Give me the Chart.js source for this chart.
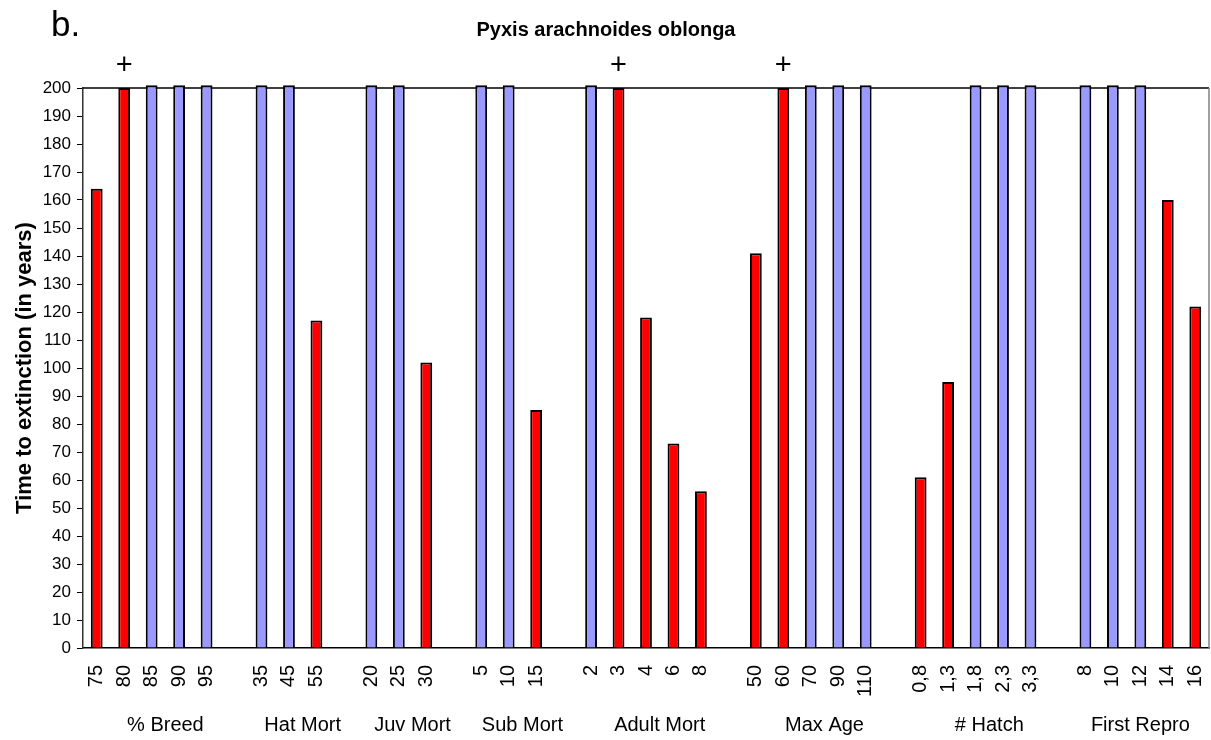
<!DOCTYPE html>
<html>
<head>
<meta charset="utf-8">
<script src="https://cdn.jsdelivr.net/npm/chart.js@4/dist/chart.umd.min.js"></script>
<style>
  html, body { margin: 0; padding: 0; background: #fff; }
  #wrap { width: 1211px; height: 740px; position: relative; }
</style>
</head>
<body>
<div id="wrap"><canvas id="extinctionChart"></canvas></div>
<script>
// parameter value tested in each run (blank = spacer between groups)
var labels = ['75', '80', '85', '90', '95', '',
    '35', '45', '55', '',
    '20', '25', '30', '',
    '5', '10', '15', '',
    '2', '3', '4', '6', '8', '',
    '50', '60', '70', '90', '110', '',
    '0,8', '1,3', '1,8', '2,3', '3,3', '',
    '8', '10', '12', '14', '16'];

// time to extinction in years (201 = survived the 200 year run)
var years = [164, 200, 201, 201, 201, null,
    201, 201, 117, null,
    201, 201, 102, null,
    201, 201, 85, null,
    201, 200, 118, 73, 56, null,
    141, 200, 201, 201, 201, null,
    61, 95, 201, 201, 201, null,
    201, 201, 201, 160, 122];

var groupNames = ['% Breed', 'Hat Mort', 'Juv Mort', 'Sub Mort', 'Adult Mort', 'Max Age', '# Hatch', 'First Repro'];
var groupSpans = [[0, 5], [6, 9], [10, 13], [14, 17], [18, 23], [24, 29], [30, 35], [36, 40]];

// runs marked with "+"
var plusAt = [1, 19, 25];

var barColors = years.map(function (v) {
    return v !== null && v <= 200 ? '#FF0000' : '#9999FF';
});

var FONT = "'Liberation Sans', Arial, sans-serif";

var decorations = {
    id: 'decorations',
    beforeDatasetsDraw: function (chart) {
        var c = chart.ctx, a = chart.chartArea;
        c.save();
        c.lineWidth = 1.5;
        c.strokeStyle = '#000';
        c.beginPath();
        c.moveTo(a.left, a.top);
        c.lineTo(a.right, a.top);
        c.stroke();
        c.strokeStyle = '#808080';
        c.beginPath();
        c.moveTo(a.right, a.top);
        c.lineTo(a.right, a.bottom);
        c.stroke();
        c.restore();
    },
    afterDraw: function (chart) {
        var c = chart.ctx, a = chart.chartArea, x = chart.scales.x;
        c.save();
        c.fillStyle = '#000';

        c.textAlign = 'left';
        c.textBaseline = 'alphabetic';
        c.font = '35px ' + FONT;
        c.fillText('b.', 51, 36);

        c.textAlign = 'center';
        c.font = 'bold 20px ' + FONT;
        c.fillText('Pyxis arachnoides oblonga', 606, 36);

        c.font = '29px ' + FONT;
        c.textBaseline = 'middle';
        plusAt.forEach(function (i) {
            c.fillText('+', x.getPixelForValue(i), a.top - 22);
        });

        c.font = '20px ' + FONT;
        groupNames.forEach(function (name, g) {
            var s = groupSpans[g];
            var mid = (x.getPixelForValue(s[0]) + x.getPixelForValue(s[1])) / 2;
            c.fillText(name, mid, 725);
        });
        c.restore();
    }
};

var ctx = document.getElementById('extinctionChart').getContext('2d');
var extinctionChart = new Chart(ctx, {
    type: 'bar',
    data: {
        labels: labels,
        datasets: [{
            data: years,
            backgroundColor: barColors,
            borderColor: '#000',
            borderWidth: 2,
            barPercentage: 0.43,
            categoryPercentage: 1,
            clip: false
        }]
    },
    options: {
        responsive: true,
        maintainAspectRatio: false,
        animation: false,
        layout: {
            padding: { top: 88, right: 2, left: 0, bottom: 0 }
        },
        plugins: {
            legend: { display: false },
            tooltip: { enabled: false }
        },
        scales: {
            x: {
                grid: { display: false },
                border: { display: true, color: '#000', width: 1.5 },
                ticks: {
                    color: '#000',
                    font: { family: FONT, size: 20 },
                    minRotation: 90,
                    maxRotation: 90,
                    autoSkip: false,
                    padding: 9
                },
                afterFit: function (scale) {
                    scale.height = 92;
                    scale.paddingLeft = 0;
                    scale.paddingRight = 0;
                }
            },
            y: {
                min: 0,
                max: 200,
                grid: {
                    display: true,
                    drawOnChartArea: false,
                    drawTicks: true,
                    tickLength: 6,
                    color: '#000'
                },
                border: { display: true, color: '#333', width: 1.5 },
                ticks: {
                    stepSize: 10,
                    color: '#000',
                    font: { family: FONT, size: 17 },
                    padding: 6
                },
                title: {
                    display: true,
                    text: 'Time to extinction (in years)',
                    color: '#000',
                    font: { family: FONT, size: 22, weight: 'bold' },
                    padding: { top: 12, bottom: 0 }
                },
                afterFit: function (scale) { scale.width = 83; }
            }
        }
    },
    plugins: [decorations]
});
</script>
</body>
</html>
